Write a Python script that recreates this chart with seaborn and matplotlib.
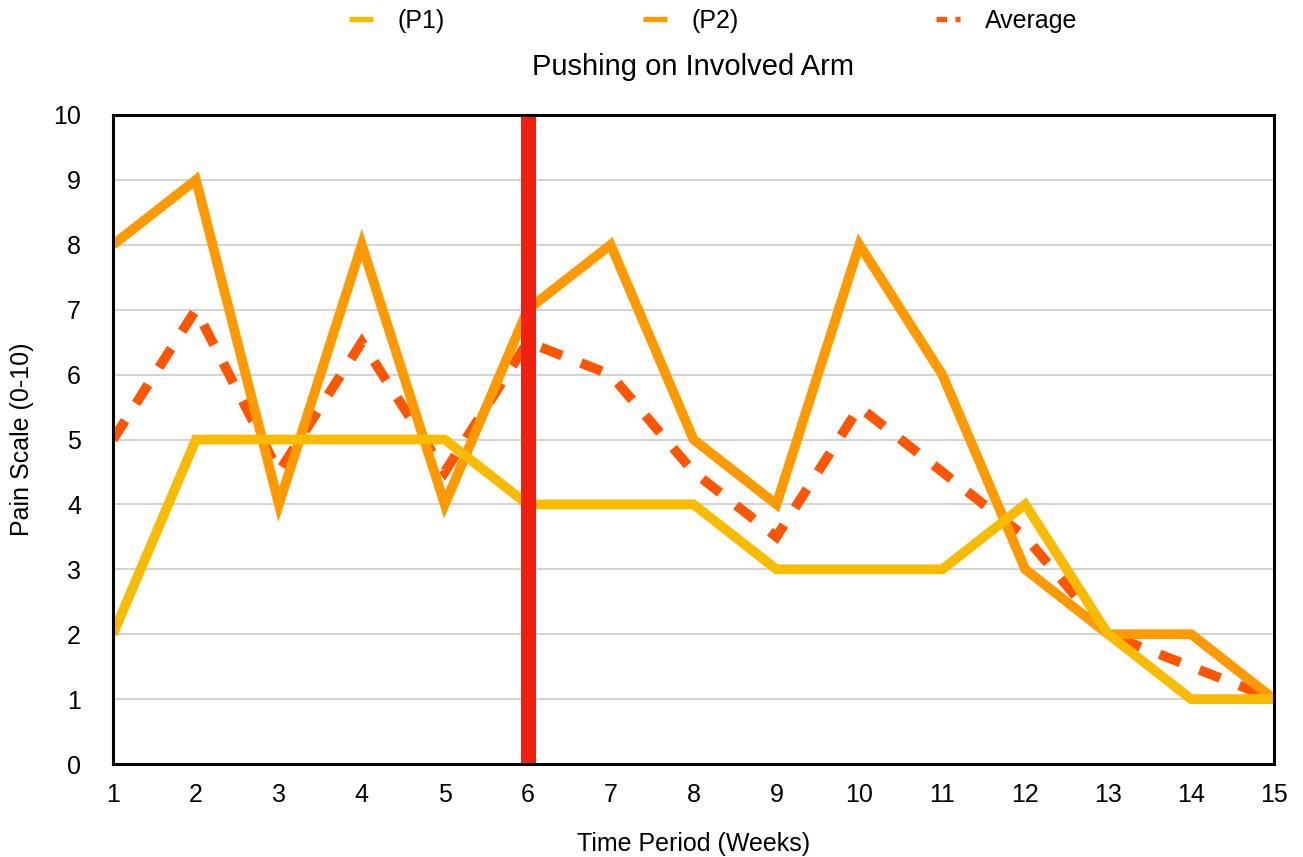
import matplotlib
matplotlib.use("Agg")
import matplotlib.pyplot as plt
from matplotlib.lines import Line2D
import seaborn as sns
import pandas as pd

# ---- data ----
weeks = list(range(1, 16))
p1 = [2, 5, 5, 5, 5, 4, 4, 4, 3, 3, 3, 4, 2, 1, 1]
p2 = [8, 9, 4, 8, 4, 7, 8, 5, 4, 8, 6, 3, 2, 2, 1]
average = [5, 7, 4.5, 6.5, 4.5, 6.5, 6, 4.5, 3.5, 5.5, 4.5, 3.5, 2, 1.5, 1]
intervention_week = 6
series_names = ["(P1)", "(P2)", "Average"]
y_ticks = list(range(0, 11))

title = "Pushing on Involved Arm"
x_label = "Time Period (Weeks)"
y_label = "Pain Scale (0-10)"

# ---- style ----
sns.set_theme(style="white")
plt.rcParams['font.family'] = ['Liberation Sans', 'DejaVu Sans']
plt.rcParams['text.color'] = 'black'
plt.rcParams['axes.labelcolor'] = 'black'

c_p1 = "#F8BB00"
c_p2 = "#FF9900"
c_avg = "#FF5500"
c_red = "#EE2010"

W, H = 1303, 857
fig = plt.figure(figsize=(W / 100, H / 100), dpi=100)
ax = fig.add_axes([113 / W, 1 - 764 / H, (1274 - 113) / W, (764 - 115) / H])

df = pd.DataFrame({"week": weeks, "p1": p1, "p2": p2, "avg": average})

lw = 7.0
sns.lineplot(data=df, x="week", y="avg", ax=ax, color=c_avg, lw=lw,
             linestyle=(0, (2.3, 2.1)), zorder=3)
ax.lines[-1].set_dash_capstyle("butt")
ax.lines[-1].set_dash_joinstyle("miter")
sns.lineplot(data=df, x="week", y="p2", ax=ax, color=c_p2, lw=lw, zorder=4,
             solid_joinstyle="miter", solid_capstyle="butt")
sns.lineplot(data=df, x="week", y="p1", ax=ax, color=c_p1, lw=lw, zorder=5,
             solid_joinstyle="miter", solid_capstyle="butt")
ax.axvline(intervention_week, color=c_red, lw=10.8, zorder=6, solid_capstyle="butt")

ax.set_xlim(weeks[0], weeks[-1])
ax.set_ylim(y_ticks[0], y_ticks[-1])
ax.set_xticks(weeks)
ax.set_yticks(y_ticks)
ax.tick_params(axis="both", length=0, labelsize=18, colors="black")
ax.tick_params(axis="y", pad=23)
ax.tick_params(axis="x", pad=14)

ax.grid(axis="y", color="#C8C8C8", lw=1.1)
ax.grid(axis="x", visible=False)
ax.set_axisbelow(True)
for s in ax.spines.values():
    s.set_color("black")
    s.set_linewidth(2.2)
    s.set_zorder(7)

ax.set_xlabel(x_label, fontsize=18, labelpad=18, color="black")
ax.set_ylabel(y_label, fontsize=18, labelpad=14, color="black")
ax.set_title(title, fontsize=21, pad=29, color="black")

# legends (three separate entries positioned like the reference)
handles = [
    Line2D([], [], color=c_p1, lw=3.8, solid_capstyle="butt"),
    Line2D([], [], color=c_p2, lw=3.8, solid_capstyle="butt"),
    Line2D([], [], color=c_avg, lw=3.8, linestyle=(0, (2.0, 1.6)), dash_capstyle="butt"),
]
starts = [349, 643, 936]
for h, name, x0 in zip(handles, series_names, starts):
    leg = fig.legend([h], [name], loc="center left", bbox_to_anchor=(x0 / W, 1 - 21 / H),
                     frameon=False, fontsize=18, handlelength=0.95, handletextpad=1.0,
                     borderpad=0, borderaxespad=0)
    for t in leg.get_texts():
        t.set_color("black")

fig.savefig("out.png", dpi=100)
